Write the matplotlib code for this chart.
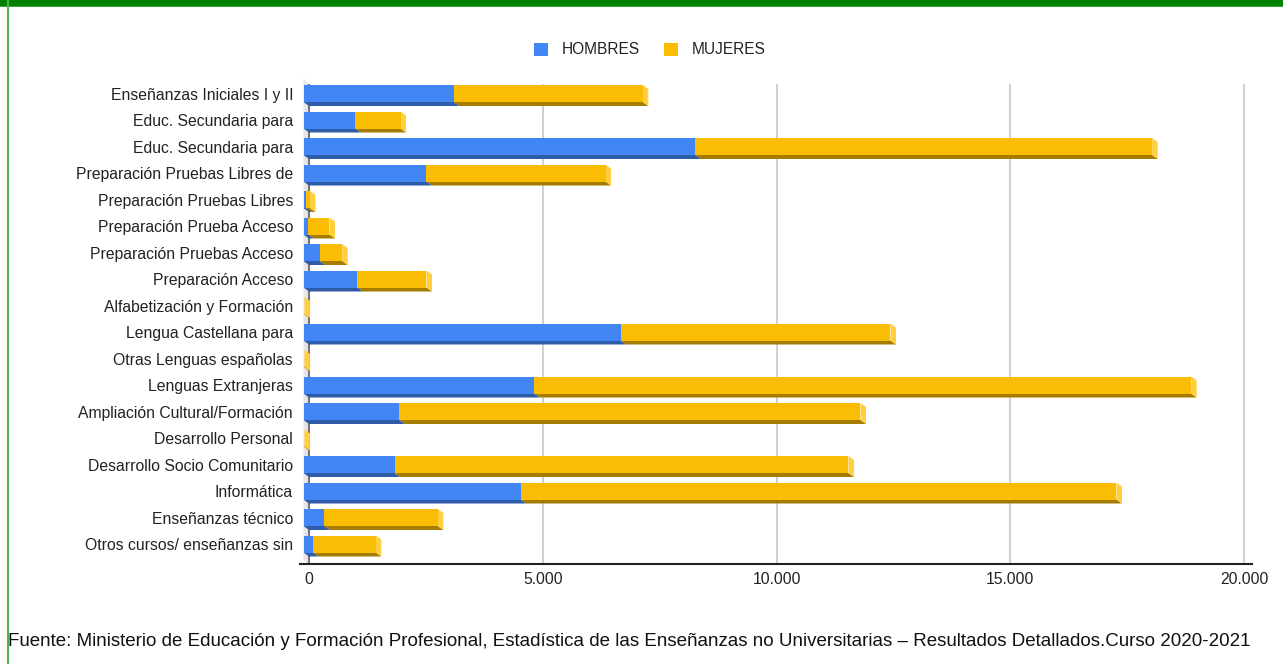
import matplotlib
matplotlib.use("Agg")
import matplotlib.pyplot as plt
from matplotlib.patches import Polygon, Rectangle
import numpy as np

plt.rcParams['font.family'] = ['Liberation Sans', 'DejaVu Sans']

categories = [
    "Enseñanzas Iniciales I y II",
    "Educ. Secundaria para",
    "Educ. Secundaria para",
    "Preparación Pruebas Libres de",
    "Preparación Pruebas Libres",
    "Preparación Prueba Acceso",
    "Preparación Pruebas Acceso",
    "Preparación Acceso",
    "Alfabetización y Formación",
    "Lengua Castellana para",
    "Otras Lenguas españolas",
    "Lenguas Extranjeras",
    "Ampliación Cultural/Formación",
    "Desarrollo Personal",
    "Desarrollo Socio Comunitario",
    "Informática",
    "Enseñanzas técnico",
    "Otros cursos/ enseñanzas sin",
]
hombres = [3215, 1112, 8385, 2631, 58, 100, 349, 1155, 0, 6781, 0, 4941, 2053, 0, 1947, 4642, 449, 207]
mujeres = [4043, 963, 9768, 3829, 80, 456, 479, 1476, 20, 5775, 20, 14047, 9861, 20, 9710, 12748, 2424, 1340]
series_names = ["HOMBRES", "MUJERES"]
xticks = [0, 5000, 10000, 15000, 20000]
xtick_labels = ["0", "5.000", "10.000", "15.000", "20.000"]
source = ("Fuente: Ministerio de Educación y Formación Profesional, Estadística de las Enseñanzas "
          "no Universitarias – Resultados Detallados.Curso 2020-2021")

W, H = 1283, 664
fig = plt.figure(figsize=(W / 100, H / 100), dpi=100)

# axes placement in pixels
ax_l, ax_r, ax_t, ax_b = 300, 1252, 84, 564
ax = fig.add_axes([ax_l / W, 1 - ax_b / H, (ax_r - ax_l) / W, (ax_b - ax_t) / H])
px_per_unit = 233.7 / 5000.0
x0_px = 309
xmin = -(x0_px - ax_l) / px_per_unit
xmax = 20000 + (ax_r - 1244) / px_per_unit
row_px = 26.5
first_row_px = 93.5
ymin_top = (ax_t - first_row_px) / row_px
ymax_bot = (ax_b - first_row_px) / row_px
ax.set_xlim(xmin, xmax)
ax.set_ylim(ymax_bot, ymin_top)

for s in ax.spines.values():
    s.set_visible(False)
ax.set_xticks(xticks)
ax.set_xticklabels(xtick_labels, fontsize=11.3, color="#222222")
ax.tick_params(axis='x', length=0, pad=6)
ax.set_yticks(range(len(categories)))
ax.set_yticklabels(categories, fontsize=11.3, color="#222222")
ax.tick_params(axis='y', length=0, pad=5)

# gridlines
for t in xticks[1:]:
    ax.axvline(t, color="#cccccc", lw=1.3, zorder=0)

dx = 5.5 / px_per_unit  # depth in x (data units)
dy = 4.0 / row_px       # depth in y
h = 17.0 / row_px

# left wall
wall = Polygon([(-dx, ymin_top - 0.2), (0, ymin_top), (0, ymax_bot), (-dx, ymax_bot - dy)],
               closed=True, facecolor="#e6e6e6", edgecolor="none", zorder=1, clip_on=False)
ax.add_patch(wall)
ax.plot([0, 0], [ymin_top, ymax_bot], color="#777777", lw=1.5, zorder=1.5)
ax.plot([xmin, xmax], [ymax_bot, ymax_bot], color="#222222", lw=1.5, zorder=1.5, clip_on=False)

front_cols = ["#4285F4", "#FBBC04"]
bottom_cols = ["#2F5CA8", "#A67C00"]
side_cols = ["#5E97F6", "#FFCF40"]

for i in range(len(categories)):
    vals = [hombres[i], mujeres[i]]
    start = 0.0
    segs = []
    for k, v in enumerate(vals):
        if v > 0:
            segs.append((k, start, start + v))
        start += v
    for j, (k, a, b) in enumerate(segs):
        yt = i - h / 2
        yb = i + h / 2
        # bottom face
        ax.add_patch(Polygon([(a - dx, yb), (b - dx, yb), (b, yb + dy), (a, yb + dy)],
                             closed=True, facecolor=bottom_cols[k], edgecolor="none", zorder=2))
        # front face
        ax.add_patch(Rectangle((a - dx, yt), b - a, h, facecolor=front_cols[k],
                               edgecolor="none", zorder=3))
        if j == len(segs) - 1:
            ax.add_patch(Polygon([(b - dx, yt), (b, yt + dy), (b, yb + dy), (b - dx, yb)],
                                 closed=True, facecolor=side_cols[k], edgecolor="none", zorder=2.5))

# legend (manual, figure pixel coords)
def fx(x):
    return x / W
def fy(y):
    return 1 - y / H

for (x, name, col) in [(534, series_names[0], front_cols[0]), (664, series_names[1], front_cols[1])]:
    fig.patches.append(Rectangle((fx(x), fy(56)), 14 / W, 13 / H, transform=fig.transFigure,
                                 facecolor=col, edgecolor="none"))
    fig.text(fx(x + 28), fy(50), name, fontsize=11.2, va="center", ha="left", color="#222222")

# source text
fig.text(fx(8), fy(641), source, fontsize=13.5, va="center", ha="left", color="#111111")

# green borders
fig.patches.append(Rectangle((0, fy(6)), 1, 6 / H, transform=fig.transFigure,
                             facecolor="#008000", edgecolor="none"))
fig.patches.append(Rectangle((0, fy(7)), 1, 1 / H, transform=fig.transFigure,
                             facecolor="#3aa83a", edgecolor="none"))
fig.patches.append(Rectangle((fx(7), 0), 1.5 / W, 1, transform=fig.transFigure,
                             facecolor="#4CAF50", edgecolor="none"))

fig.savefig("out.png", dpi=100, facecolor="white")
